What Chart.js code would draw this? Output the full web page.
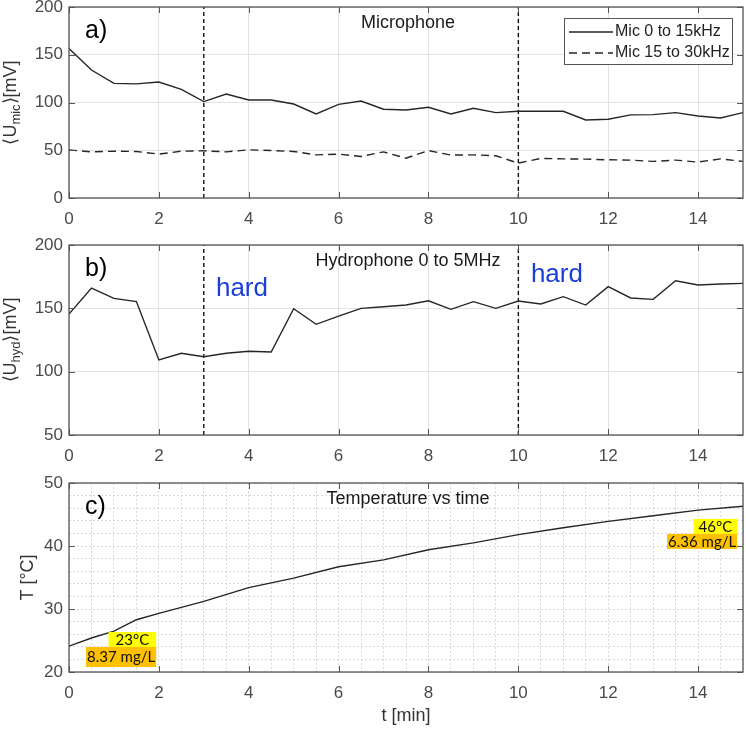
<!DOCTYPE html>
<html>
<head>
<meta charset="utf-8">
<script src="https://cdn.jsdelivr.net/npm/chart.js@4.4.1/dist/chart.umd.min.js"></script>
<style>
  html, body { margin: 0; background: #fff; }
  #wrap { position: relative; width: 746px; height: 729px; }
  #wrap canvas { position: absolute; left: 0; top: 0; }
</style>
</head>
<body>
<div id="wrap">
  <canvas id="micChart" width="746" height="729"></canvas>
  <canvas id="hydroChart" width="746" height="729"></canvas>
  <canvas id="tempChart" width="746" height="729"></canvas>
</div>
<script>
// ================= DATA =================
const times = [0, 0.5, 1, 1.5, 2, 2.5, 3, 3.5, 4, 4.5, 5, 5.5, 6, 6.5, 7, 7.5, 8, 8.5, 9, 9.5, 10, 10.5, 11, 11.5, 12, 12.5, 13, 13.5, 14, 14.5, 15];
const micLow = [156.5, 134, 120, 119.5, 121.4, 113.7, 101, 108.9, 102.6, 102.6, 98.4, 88, 98, 101.6, 92.9, 92.2, 95, 88, 94, 89.4, 90.8, 90.8, 90.8, 81.7, 82.4, 87, 87.3, 89.4, 85.9, 83.8, 89.4];
const micHigh = [50.4, 48.3, 49, 48.7, 45.9, 49, 49.4, 48.3, 50.4, 49.7, 48.7, 45.2, 45.9, 43.5, 48.3, 41.7, 49.7, 44.9, 45.2, 44.2, 36.5, 41.4, 41, 40.7, 40, 39.7, 38.3, 39.7, 37.6, 41, 38.3];
const hydro = [145.5, 166, 157.9, 155.3, 109.2, 114.5, 111.8, 114.5, 116.1, 115.5, 149.7, 137.4, 143.9, 150, 151.3, 152.6, 156, 149.2, 155.3, 150, 155.8, 153.4, 159.2, 152.6, 167.1, 158.2, 157.1, 171.8, 168.4, 169.2, 169.7];
const tempTimes = [0, 0.5, 1, 1.5, 2, 3, 4, 5, 6, 7, 8, 9, 10, 11, 12, 13, 14, 15];
const tempValues = [24.1, 25.4, 26.5, 28.3, 29.3, 31.2, 33.4, 34.9, 36.7, 37.8, 39.4, 40.5, 41.8, 42.9, 43.9, 44.8, 45.7, 46.3];
const hardTimes = [3, 10];
const micLabels = ["Mic 0 to 15kHz", "Mic 15 to 30kHz"];

const xTicks = [0, 2, 4, 6, 8, 10, 12, 14];
const micTicks = [0, 50, 100, 150, 200];
const hydroTicks = [50, 100, 150, 200];
const tempTicks = [20, 30, 40, 50];
const tempGridX = Array.from({ length: 31 }, (_, i) => i * 0.5);
const tempGridY = Array.from({ length: 16 }, (_, i) => 20 + i * 2);

// ================= STYLE =================
const FONT = "'Liberation Sans', Arial, sans-serif";
const tickColor = "#4a4a4a";
const lineColor = "#262626";
const boxColor = "#555";

const xy = (xs, ys) => xs.map((t, i) => ({ x: t, y: ys[i] }));
const line = (label, data, dash) => ({
  label, data, borderColor: lineColor, borderWidth: 1.4,
  borderDash: dash || [], pointRadius: 0, tension: 0
});
const markers = (lo, hi) => hardTimes.map(t => ({
  data: [{ x: t, y: lo }, { x: t, y: hi }],
  borderColor: "#111", borderWidth: 1.4, borderDash: [4, 3], pointRadius: 0
}));

// ================= DECORATION PLUGIN (matlab-like box, texts) =================
const matlabAxes = {
  id: "matlabAxes",
  afterDatasetsDraw(chart, args, o) {
    const { ctx, chartArea: a, scales: { x, y } } = chart;
    ctx.save();
    ctx.strokeStyle = boxColor;
    ctx.lineWidth = 1;
    ctx.setLineDash([]);
    ctx.beginPath();
    o.xMajor.forEach(v => {
      const px = Math.round(x.getPixelForValue(v)) + 0.5;
      ctx.moveTo(px, a.bottom); ctx.lineTo(px, a.bottom - 6);
      ctx.moveTo(px, a.top); ctx.lineTo(px, a.top + 6);
    });
    o.yMajor.forEach(v => {
      const py = Math.round(y.getPixelForValue(v)) + 0.5;
      ctx.moveTo(a.left, py); ctx.lineTo(a.left + 6, py);
      ctx.moveTo(a.right, py); ctx.lineTo(a.right - 6, py);
    });
    ctx.stroke();
    ctx.lineWidth = 1.3;
    ctx.strokeRect(a.left, a.top, a.width, a.height);

    // legend box
    if (o.legend) {
      const items = chart.data.datasets.filter(d => d.label);
      const bw = 168, bh = 46;
      const bx = a.right - 11 - bw, by = a.top + 11;
      ctx.fillStyle = "#fff";
      ctx.fillRect(bx, by, bw, bh);
      ctx.lineWidth = 1;
      ctx.strokeRect(bx + 0.5, by + 0.5, bw, bh);
      ctx.font = "16px " + FONT;
      ctx.textBaseline = "middle";
      ctx.textAlign = "left";
      items.forEach((d, i) => {
        const ly = by + 14 + i * 21;
        ctx.strokeStyle = d.borderColor;
        ctx.lineWidth = 1.4;
        ctx.setLineDash(d.borderDash.length ? [8, 5] : []);
        ctx.beginPath();
        ctx.moveTo(bx + 5, ly); ctx.lineTo(bx + 49, ly);
        ctx.stroke();
        ctx.setLineDash([]);
        ctx.fillStyle = "#222";
        ctx.fillText(d.label, bx + 51, ly);
      });
    }
    ctx.restore();
  },
  afterDraw(chart, args, o) {
    const { ctx, chartArea: a, scales: { x, y } } = chart;
    ctx.save();
    // panel letter
    ctx.fillStyle = "#000";
    ctx.font = "25px " + FONT;
    ctx.textAlign = "left";
    ctx.textBaseline = "middle";
    ctx.fillText(o.letter, a.left + 16, a.top + 24);
    // inside title
    ctx.fillStyle = "#1a1a1a";
    ctx.font = "18px " + FONT;
    ctx.textAlign = "center";
    ctx.fillText(o.title, (a.left + a.right) / 2 + 2, a.top + 16);

    // y title with subscript
    ctx.save();
    ctx.translate(a.left - o.yTitleOffset, (a.top + a.bottom) / 2);
    ctx.rotate(-Math.PI / 2);
    ctx.fillStyle = "#333";
    ctx.textAlign = "left";
    ctx.textBaseline = "middle";
    const fontFor = p => (p[1] ? "13px " : "18px ") + FONT;
    let total = 0;
    o.yTitle.forEach(p => { ctx.font = fontFor(p); total += ctx.measureText(p[0]).width; });
    let cx = -total / 2;
    o.yTitle.forEach(p => {
      ctx.font = fontFor(p);
      ctx.fillText(p[0], cx, p[1] ? 5 : 0);
      cx += ctx.measureText(p[0]).width;
    });
    ctx.restore();

    // x title
    if (o.xTitle) {
      ctx.fillStyle = "#333";
      ctx.font = "18px " + FONT;
      ctx.textAlign = "center";
      ctx.fillText(o.xTitle, (a.left + a.right) / 2, a.bottom + 44);
    }

    // blue texts
    (o.texts || []).forEach(t => {
      ctx.fillStyle = "#1a3fd9";
      ctx.font = "26px " + FONT;
      ctx.textAlign = "left";
      ctx.fillText(t.text, x.getPixelForValue(t.x), y.getPixelForValue(t.y));
    });

    // highlighted notes (anchored top-right)
    (o.notes || []).forEach(n => {
      ctx.font = "15px Lato, 'Open Sans', sans-serif";
      const rx = x.getPixelForValue(n.x);
      let ty = y.getPixelForValue(n.y);
      n.rows.forEach(r => {
        const w = ctx.measureText(r.text).width + r.pad * 2;
        ctx.fillStyle = r.bg;
        ctx.fillRect(rx - w, ty, w, r.h);
        ctx.fillStyle = "#111";
        ctx.textAlign = "center";
        ctx.fillText(r.text, rx - w / 2, ty + r.h / 2 + 0.5);
        ty += r.h;
      });
    });
    ctx.restore();
  }
};

// ================= PANEL BUILDER =================
function makePanel(id, cfg) {
  const zeroPad = s => { s.paddingLeft = s.paddingRight = s.paddingTop = s.paddingBottom = 0; };
  return new Chart(document.getElementById(id), {
    type: "line",
    data: { datasets: cfg.datasets },
    options: {
      responsive: false,
      animation: false,
      events: [],
      layout: { padding: { top: cfg.top, left: 0, right: 3, bottom: 729 - cfg.bottom - 40 } },
      plugins: { legend: { display: false }, tooltip: { enabled: false }, matlabAxes: cfg.deco },
      scales: {
        x: {
          type: "linear", min: 0, max: 15,
          afterFit: s => { s.height = 40; zeroPad(s); },
          afterBuildTicks: s => { s.ticks = cfg.xGrid.map(v => ({ value: v })); },
          grid: { color: cfg.gridColor, drawTicks: false },
          border: { display: false, dash: cfg.dash },
          ticks: {
            autoSkip: false, maxRotation: 0, padding: 11, color: tickColor,
            font: { family: FONT, size: 17 },
            callback: v => xTicks.includes(v) ? String(v) : ""
          }
        },
        y: {
          type: "linear", min: cfg.yMin, max: cfg.yMax,
          afterFit: s => { s.width = 69; zeroPad(s); },
          afterBuildTicks: s => { s.ticks = cfg.yGrid.map(v => ({ value: v })); },
          grid: { color: cfg.gridColor, drawTicks: false },
          border: { display: false, dash: cfg.dash },
          ticks: {
            autoSkip: false, padding: 6, color: tickColor,
            font: { family: FONT, size: 17 },
            callback: v => cfg.yLabels.includes(v) ? String(v) : ""
          }
        }
      }
    },
    plugins: [matlabAxes]
  });
}

// ================= a) MICROPHONE =================
makePanel("micChart", {
  top: 7, bottom: 198, yMin: 0, yMax: 200,
  xGrid: xTicks, yGrid: micTicks, yLabels: micTicks,
  gridColor: "#e3e3e3", dash: [],
  datasets: [
    line(micLabels[0], xy(times, micLow)),
    line(micLabels[1], xy(times, micHigh), [8, 5]),
    ...markers(0, 200)
  ],
  deco: {
    letter: "a)", title: "Microphone", legend: true,
    yTitle: [["\u27E8U"], ["mic", 1], ["\u27E9[mV]"]], yTitleOffset: 58,
    xMajor: xTicks, yMajor: micTicks
  }
});

// ================= b) HYDROPHONE =================
makePanel("hydroChart", {
  top: 245, bottom: 435, yMin: 50, yMax: 200,
  xGrid: xTicks, yGrid: hydroTicks, yLabels: hydroTicks,
  gridColor: "#e3e3e3", dash: [],
  datasets: [
    line("Hydrophone 0 to 5MHz", xy(times, hydro)),
    ...markers(50, 200)
  ],
  deco: {
    letter: "b)", title: "Hydrophone 0 to 5MHz",
    yTitle: [["\u27E8U"], ["hyd", 1], ["\u27E9[mV]"]], yTitleOffset: 58,
    xMajor: xTicks, yMajor: hydroTicks,
    texts: [{ x: 3.27, y: 165.5, text: "hard" }, { x: 10.28, y: 176.5, text: "hard" }]
  }
});

// ================= c) TEMPERATURE =================
makePanel("tempChart", {
  top: 483, bottom: 672, yMin: 20, yMax: 50,
  xGrid: tempGridX, yGrid: tempGridY, yLabels: tempTicks,
  gridColor: "#d9d9d9", dash: [2, 2],
  datasets: [line("T", xy(tempTimes, tempValues))],
  deco: {
    letter: "c)", title: "Temperature vs time",
    yTitle: [["T [\u00B0C]"]], yTitleOffset: 41, xTitle: "t [min]",
    xMajor: xTicks, yMajor: tempTicks,
    notes: [
      { x: 1.94, y: 26.35, rows: [{ text: "23\u00B0C", bg: "#ffff00", pad: 7, h: 15 }, { text: "8.37 mg/L", bg: "#ffc000", pad: 1, h: 20 }] },
      { x: 14.87, y: 44.3, rows: [{ text: "46\u00B0C", bg: "#ffff00", pad: 5, h: 15 }, { text: "6.36 mg/L", bg: "#ffc000", pad: 1, h: 15 }] }
    ]
  }
});
</script>
</body>
</html>
